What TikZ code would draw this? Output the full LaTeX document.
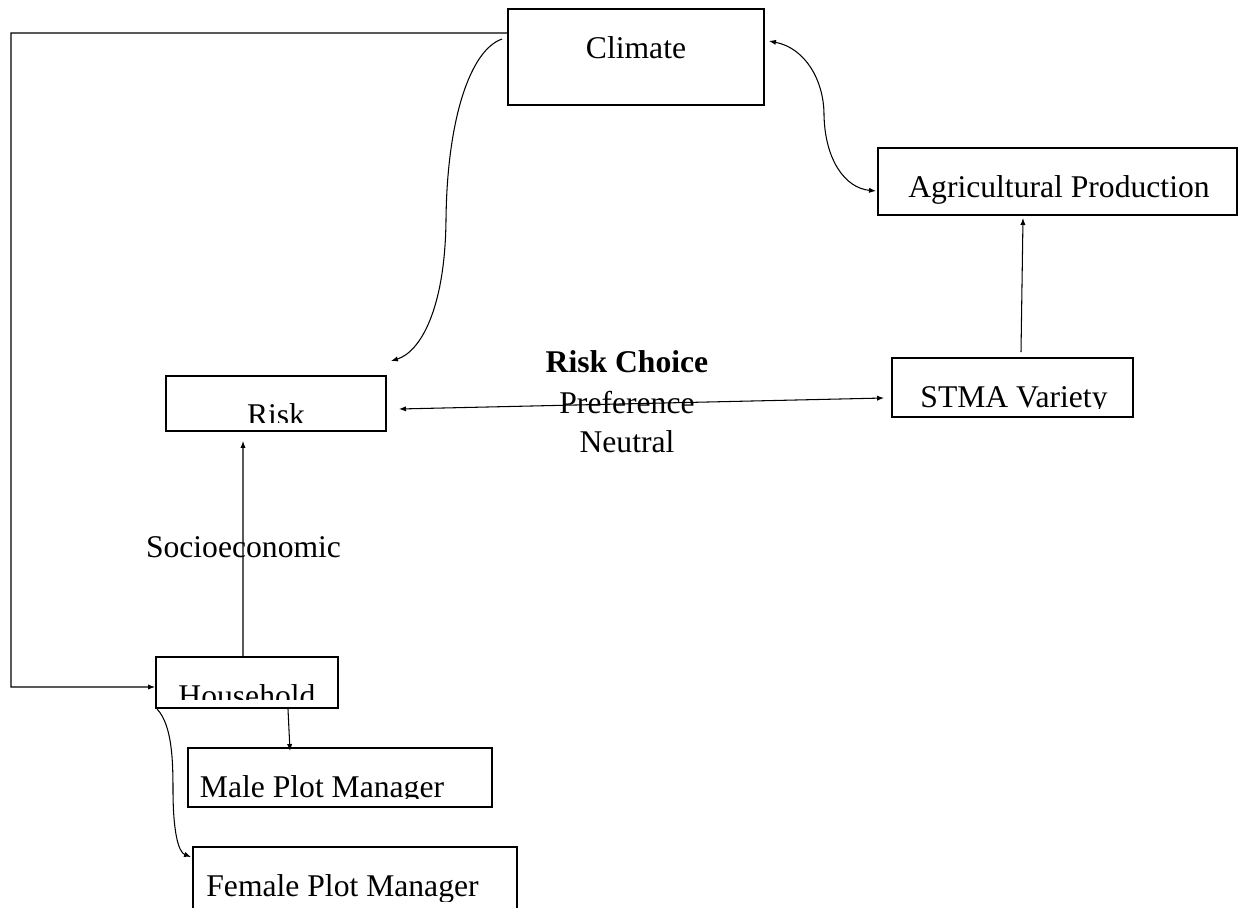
\documentclass[tikz,border=0pt]{standalone}
\usepackage{fontspec}
\setmainfont{Liberation Serif}
\usetikzlibrary{arrows.meta, positioning}

\begin{document}
\begin{tikzpicture}[
    x=0.02cm, y=-0.02cm,
    lbl/.style={font=\fontsize{18}{23}\selectfont, inner sep=0pt},
    box/.style={rectangle, draw, line width=1.1pt, inner sep=0pt},
    boxtext/.style 2 args={path picture={
        \clip (path picture bounding box.north west)
            rectangle ([yshift=0.18cm]path picture bounding box.south east);
        \node[lbl, anchor=base] at ([xshift=#2, yshift=-0.98cm]path picture bounding box.north) {#1};}},
    link/.style={-{Latex[length=4pt, width=3pt]}, line width=0.6pt},
    twoway/.style={{Latex[length=4pt, width=3pt]}-{Latex[length=4pt, width=3pt]}, line width=0.6pt}
]
\useasboundingbox (0,0) rectangle (1238,907);
\clip (0,0) rectangle (1238,907);

% Boxes
\node[box, boxtext={Climate}{0cm}, minimum width=5.12cm, minimum height=1.92cm] (climate) at (636,57) {};
\node[box, boxtext={Agricultural Production}{0.03cm}, minimum width=7.18cm, minimum height=1.34cm] (agri) at (1057.5,181.5) {};
\node[box, boxtext={STMA Variety}{0.03cm}, minimum width=4.82cm, minimum height=1.18cm] (stma) at (1012.5,387.5) {};
\node[box, boxtext={Risk}{0cm}, minimum width=4.4cm, minimum height=1.1cm] (risk) at (276,403.5) {};
\node[box, boxtext={Household}{0cm}, minimum width=3.64cm, minimum height=1.02cm] (household) at (247,682.5) {};
\node[box, boxtext={Male Plot Manager}{-0.36cm}, minimum width=6.08cm, minimum height=1.18cm] (male) at (340,777.5) {};
\node[box, boxtext={Female Plot Manager}{-0.25cm}, minimum width=6.48cm, minimum height=1.26cm] (female) at (355,878.5) {};

% Free labels
\node[lbl, font=\fontsize{18}{23}\selectfont\bfseries, anchor=base] (choice) at (627,372) {Risk Choice};
\node[lbl, anchor=base] (pref) at ([yshift=-0.82cm]choice.base) {Preference};
\node[lbl, anchor=base] (neutral) at ([yshift=-0.8cm]pref.base) {Neutral};
\node[lbl, anchor=base] (socio) at (243.5,557) {Socioeconomic};

% Links
\coordinate (loopTop) at (11,33);
\coordinate (loopBot) at (11,687);
\draw[link] ([yshift=0.48cm]climate.west) -- (loopTop) -- (loopBot) -- ([yshift=-0.09cm]household.west);

\draw[link] ([shift={(-0.1cm,0.36cm)}]climate.west) .. controls (470,50) and (447,120) .. (446,220)
    .. controls (445,310) and (420,352) .. ([shift={(0.08cm,0.28cm)}]risk.north east);
\draw[twoway] ([shift={(0.08cm,0.32cm)}]climate.east) .. controls (805,48) and (824,80) .. (824,115)
    .. controls (825,160) and (845,188) .. ([shift={(-0.02cm,-0.19cm)}]agri.west);
\draw[link] ([shift={(0.17cm,0.1cm)}]stma.north) -- ([shift={(-0.69cm,-0.04cm)}]agri.south);
\draw[twoway] ([shift={(0.24cm,-0.11cm)}]risk.east) -- ([shift={(-0.14cm,-0.21cm)}]stma.west);

\draw[link] ([xshift=-0.08cm]household.north) -- ([shift={(-0.66cm,-0.18cm)}]risk.south);
\draw[link] ([xshift=0.82cm]household.south) -- ([shift={(-1.0cm,-0.08cm)}]male.north);
\draw[link] ([xshift=0.04cm]household.south west) .. controls (172,725) and (173,760) .. (173,790)
    .. controls (173,830) and (178,852) .. ([shift={(-0.02cm,0.43cm)}]female.west);

\end{tikzpicture}
\end{document}
